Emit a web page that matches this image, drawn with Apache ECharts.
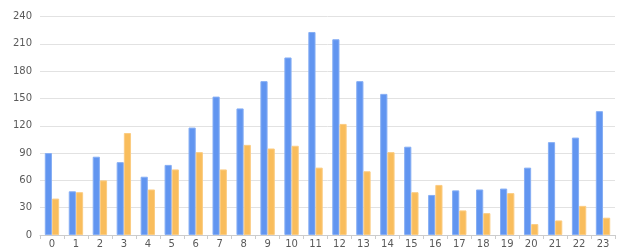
<!DOCTYPE html>
<html><head><meta charset="utf-8">
<script src="https://cdn.jsdelivr.net/npm/echarts@6/dist/echarts.min.js"></script>
<style>html,body{margin:0;padding:0;background:#fff}#c{width:640px;height:252px}</style>
</head><body><div id="c"></div>
<script>
var categories = ['0','1','2','3','4','5','6','7','8','9','10','11','12','13','14','15','16','17','18','19','20','21','22','23'];
var seriesA = [90,48,86,80,64,77,118,152,139,169,195,223,215,169,155,97,44,49,50,51,74,102,107,136];
var seriesB = [40,47,60,112,50,72,91,72,99,95,98,74,122,70,91,47,55,27,24,46,12,16,32,19];
var yTicks = {min:0, max:240, interval:30};

var chart = echarts.init(document.getElementById('c'), null, {renderer:'canvas'});
chart.setOption({
  animation:false,
  grid:{left:40, right:25, top:16.5, bottom:17},
  xAxis:{type:'category', data:categories,
    axisLine:{lineStyle:{color:'#cccccc'}},
    axisTick:{show:true, length:4, lineStyle:{color:'#cccccc'}},
    axisLabel:{color:'#5a5a5a', fontSize:10, fontFamily:'DejaVu Sans', margin:4}},
  yAxis:{type:'value', min:yTicks.min, max:yTicks.max, interval:yTicks.interval,
    axisLine:{show:false}, axisTick:{show:false},
    splitLine:{lineStyle:{color:'#e2e2e2'}},
    axisLabel:{color:'#5a5a5a', fontSize:10, fontFamily:'DejaVu Sans', margin:8}},
  series:[
    {type:'bar', data:seriesA, barGap:'0%', barCategoryGap:'40%',
      itemStyle:{color:'#6195f0', borderColor:'#86aef4', borderWidth:1}},
    {type:'bar', data:seriesB,
      itemStyle:{color:'#f9bd5c', borderColor:'#fbcc82', borderWidth:1}}
  ]
});
</script></body></html>
